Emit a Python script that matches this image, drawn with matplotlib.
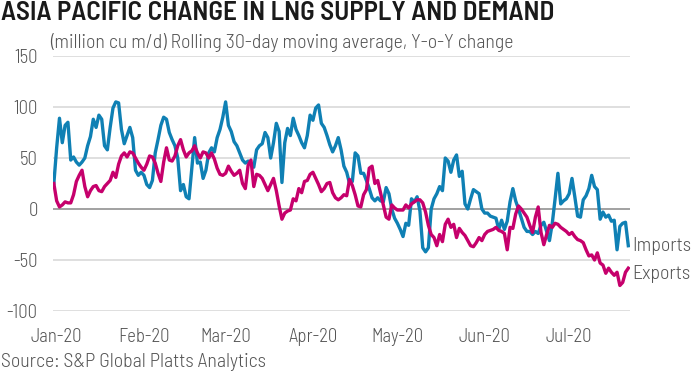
import matplotlib
matplotlib.use("Agg")
import matplotlib.pyplot as plt
import pandas as pd

TITLE_FONT = ["Barlow Semi Condensed", "DejaVu Sans"]
BODY_FONT = ["Barlow Semi Condensed", "DejaVu Sans"]

title = "ASIA PACIFIC CHANGE IN LNG SUPPLY AND DEMAND"
subtitle = "(million cu m/d) Rolling 30-day moving average, Y-o-Y change"
source = "Source: S&P Global Platts Analytics"
start_date = "2019-12-31"
yticks = [-100, -50, 0, 50, 100, 150]
month_ticks = ["2020-01-01", "2020-02-01", "2020-03-01", "2020-04-01",
               "2020-05-01", "2020-06-01", "2020-07-01"]
month_labels = ["Jan-20", "Feb-20", "Mar-20", "Apr-20", "May-20", "Jun-20", "Jul-20"]

imports = [25, 60, 89, 65, 82, 85, 48, 51, 46, 43, 46, 50, 62, 71, 88, 80, 92, 88, 62, 58,
           80, 99, 105, 104, 78, 64, 72, 80, 70, 38, 33, 36, 33, 24, 21, 28, 55, 68, 82, 90,
           88, 75, 68, 62, 50, 18, 24, 12, 10, 40, 70, 45, 46, 30, 38, 55, 60, 56, 70, 78,
           90, 105, 82, 76, 66, 62, 55, 48, 45, 47, 45, 41, 58, 62, 64, 75, 70, 50, 65, 84,
           76, 26, 65, 79, 72, 89, 78, 72, 65, 60, 72, 92, 87, 99, 102, 84, 80, 72, 63, 56,
           62, 70, 58, 42, 36, 25, 27, 55, 52, 35, 35, 28, 20, 11, 8, 11, 8, 7, 21, 15,
           0, -9, -14, -20, -27, -14, -16, 10, 7, 12, -2, -38, -42, -38, 0, 10, 15, 22, 18, 50,
           47, 36, 48, 53, 32, 37, 5, 0, 10, 19, 17, 15, 0, -4, -4, -7, -8, -9, -20, -11,
           -20, -12, 7, 20, 8, 0, -9, -18, -22, -22, -25, -22, -24, -16, -13, -22, -31, -14, 10, 35,
           5, 8, 10, 15, 30, 12, -7, -8, 9, 13, 20, 33, 22, 19, -10, -3, -8, -6, -12, -11,
           -40, -17, -14, -13, -36]

exports = [25, 8, 2, 4, 7, 6, 6, 14, 27, 33, 38, 22, 12, 18, 22, 23, 18, 17, 22, 25,
           28, 36, 31, 44, 52, 55, 51, 56, 55, 50, 45, 41, 38, 44, 52, 51, 45, 35, 27, 46,
           60, 48, 47, 52, 62, 68, 58, 51, 55, 57, 62, 55, 50, 56, 55, 50, 55, 49, 40, 34,
           33, 35, 42, 37, 33, 35, 38, 25, 20, 43, 48, 22, 34, 33, 30, 24, 18, 24, 30, 18,
           3, -10, -4, -2, -1, 10, 8, 20, 16, 27, 28, 34, 36, 30, 24, 17, 20, 25, 26, 16,
           11, 9, 11, 14, 13, 29, 23, 14, 3, 2, 14, 19, 40, 42, 25, 28, 16, 4, -8, -10,
           4, 1, -1, -1, -1, 4, 1, 5, 7, 9, 9, 6, -3, -16, -25, -28, -36, -25, -32, -15,
           -10, -18, -15, -28, -19, -23, -26, -31, -36, -37, -33, -28, -31, -25, -22, -21, -20, -18, -21, -22,
           -24, -40, -18, -19, -5, 3, 0, -4, -8, -16, -23, -8, 2, -23, -35, -25, -16, -18, -14, -15,
           -18, -20, -22, -25, -23, -27, -30, -31, -33, -40, -46, -45, -50, -43, -53, -55, -63, -58, -62, -65,
           -62, -75, -72, -62, -58]

dates = pd.date_range(start_date, periods=len(imports), freq="D")

BLUE = "#0f80b4"
MAGENTA = "#c6006c"
GRAY = "#555555"

fig = plt.figure(figsize=(7, 3.75), dpi=100)
ax = fig.add_axes([53 / 700, 1 - 311 / 375, 577 / 700, 255 / 375])

for y in yticks:
    if y == 0:
        ax.axhline(y, color="#9a9a9a", lw=1.3, zorder=1)
    else:
        ax.axhline(y, color="#dcdcdc", lw=1.3, zorder=1)

ax.plot(dates, imports, color=BLUE, lw=2.4, zorder=3, solid_joinstyle="round")
ax.plot(dates, exports, color=MAGENTA, lw=2.4, zorder=3, solid_joinstyle="round")

ax.set_ylim(-100, 150)
ax.set_xlim(dates[0] - pd.Timedelta(days=0.3), dates[-1] + pd.Timedelta(days=0.6))
ax.set_yticks(yticks)
ax.set_yticklabels([str(v) for v in yticks])
ax.set_xticks(pd.to_datetime(month_ticks))
ax.set_xticklabels(month_labels)
for s in ax.spines.values():
    s.set_visible(False)
ax.tick_params(axis="both", length=0, labelsize=13.5, colors=GRAY)
ax.tick_params(axis="y", pad=11)
ax.tick_params(axis="x", pad=12)
for lab in ax.get_xticklabels() + ax.get_yticklabels():
    lab.set_family(BODY_FONT)
    lab.set_fontweight(300)

ax.annotate("Imports", xy=(dates[-1], imports[-1]), xytext=(3, 0), textcoords="offset points",
            va="center", ha="left", fontsize=14.3, color=GRAY, family=BODY_FONT, fontweight=300,
            annotation_clip=False)
ax.annotate("Exports", xy=(dates[-1], exports[-1]), xytext=(3, -4), textcoords="offset points",
            va="center", ha="left", fontsize=14.3, color=GRAY, family=BODY_FONT, fontweight=300,
            annotation_clip=False)

fig.text(1 / 700, 1 - 13 / 375, title, fontsize=19.6, fontweight=600, color="#1a1a1a",
         family=TITLE_FONT, va="center", ha="left")
fig.text(50 / 700, 1 - 43 / 375, subtitle, fontsize=14.3, color=GRAY, family=BODY_FONT,
         fontweight=300, va="center", ha="left")
fig.text(1 / 700, 1 - 362 / 375, source, fontsize=14.3, color=GRAY, family=BODY_FONT,
         fontweight=300, va="center", ha="left")

fig.savefig("out.png", dpi=100)
